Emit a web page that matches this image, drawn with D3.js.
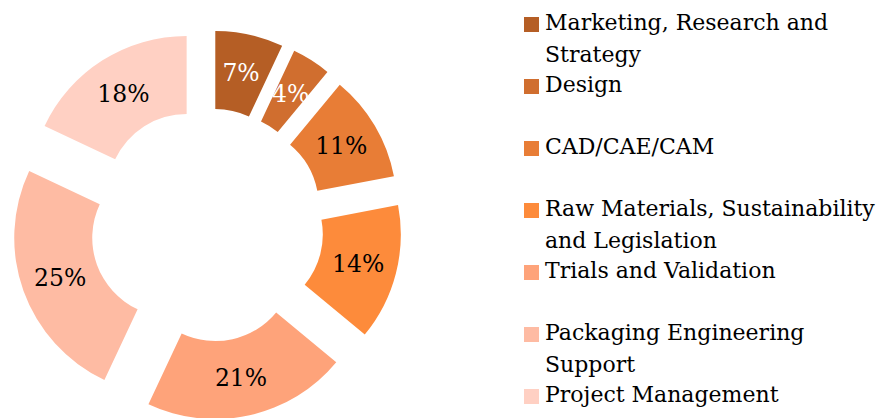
<!DOCTYPE html>
<html>
<head>
<meta charset="utf-8">
<script src="https://cdn.jsdelivr.net/npm/d3@7"></script>
<style>
  body { margin: 0; background: #fff; }
  text { font-family: "DejaVu Serif", serif; }
</style>
</head>
<body>
<script>
// chart data
var categories = [
  "Marketing, Research and Strategy",
  "Design",
  "CAD/CAE/CAM",
  "Raw Materials, Sustainability and Legislation",
  "Trials and Validation",
  "Packaging Engineering Support",
  "Project Management"
];
// legend lines (wrapped as in the picture)
var legendLines = [
  ["Marketing, Research and", "Strategy"],
  ["Design"],
  ["CAD/CAE/CAM"],
  ["Raw Materials, Sustainability", "and Legislation"],
  ["Trials and Validation"],
  ["Packaging Engineering", "Support"],
  ["Project Management"]
];
var values = [7, 4, 11, 14, 21, 25, 18];
var colors = ["#b55e25", "#d06e2f", "#e87d36", "#fd8b3b", "#fea37a", "#febba3", "#ffd0c3"];
var labelColors = ["#fff", "#fff", "#000", "#000", "#000", "#000", "#000"];

var width = 879, height = 418;
var cx = 207, cy = 225;
var outerR = 157, innerR = 79, explode = 38;

var svg = d3.select("body").append("svg")
  .attr("width", width)
  .attr("height", height);

var pie = d3.pie().sort(null).value(function(d) { return d; });
var arcs = pie(values);

var arc = d3.arc().innerRadius(innerR).outerRadius(outerR);

// offset of each slice along its bisector
function shift(d, extra) {
  var mid = (d.startAngle + d.endAngle) / 2;
  var k = explode + (extra || 0);
  return [Math.sin(mid) * k, -Math.cos(mid) * k];
}

var g = svg.append("g").attr("transform", "translate(" + cx + "," + cy + ")");

g.selectAll("path")
  .data(arcs)
  .enter().append("path")
  .attr("d", arc)
  .attr("fill", function(d, i) { return colors[i]; })
  .attr("transform", function(d) {
    var s = shift(d);
    return "translate(" + s[0] + "," + s[1] + ")";
  });

g.selectAll("text.lbl")
  .data(arcs)
  .enter().append("text")
  .attr("class", "lbl")
  .attr("text-anchor", "middle")
  .attr("dy", "0.36em")
  .style("font-size", "23.5px")
  .attr("fill", function(d, i) { return labelColors[i]; })
  .attr("transform", function(d) {
    var s = shift(d, (innerR + outerR) / 2);
    return "translate(" + s[0] + "," + s[1] + ")";
  })
  .text(function(d) { return d.value + "%"; });

// legend
var legendX = 524, legendY = 17, entryStep = 62, lineStep = 31.5;
var legend = svg.append("g").attr("class", "legend");
var item = legend.selectAll("g")
  .data(categories)
  .enter().append("g")
  .attr("transform", function(d, i) { return "translate(" + legendX + "," + (legendY + i * entryStep) + ")"; });

item.append("rect")
  .attr("width", 15)
  .attr("height", 15)
  .attr("fill", function(d, i) { return colors[i]; });

item.each(function(d, i) {
  var t = d3.select(this).append("text")
    .attr("x", 21)
    .attr("y", 13)
    .style("font-size", "22px")
    .attr("fill", "#000");
  legendLines[i].forEach(function(line, j) {
    t.append("tspan")
      .attr("x", 21)
      .attr("dy", j === 0 ? 0 : lineStep)
      .text(line);
  });
});
</script>
</body>
</html>
